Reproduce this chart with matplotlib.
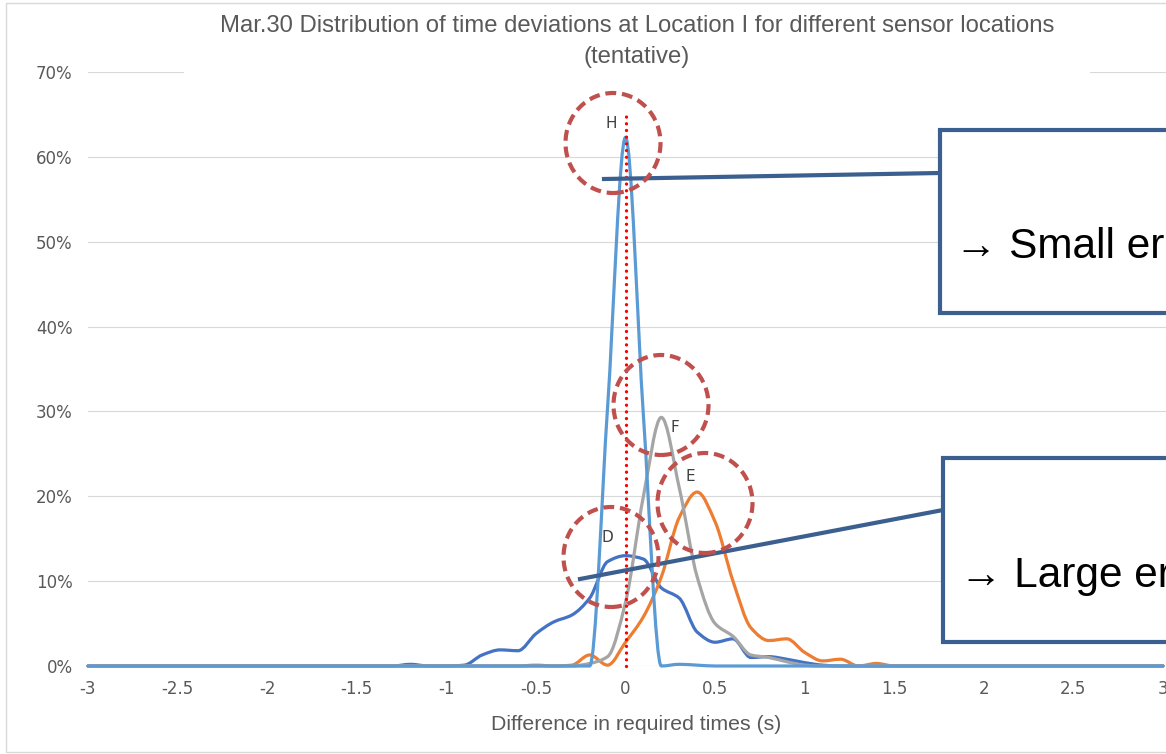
import numpy as np
import matplotlib
matplotlib.use("Agg")
import matplotlib.pyplot as plt
from matplotlib.path import Path
from matplotlib.patches import PathPatch, Ellipse, Rectangle
from matplotlib.lines import Line2D

# x positions (s), one every 0.1 s
x_vals = [-3.0, -2.9, -2.8, -2.7, -2.6, -2.5, -2.4, -2.3, -2.2, -2.1,
          -2.0, -1.9, -1.8, -1.7, -1.6, -1.5, -1.4, -1.3, -1.2, -1.1,
          -1.0, -0.9, -0.8, -0.7, -0.6, -0.5, -0.4, -0.3, -0.2, -0.1,
          0.0, 0.1, 0.2, 0.3, 0.4, 0.5, 0.6, 0.7, 0.8, 0.9,
          1.0, 1.1, 1.2, 1.3, 1.4, 1.5, 1.6, 1.7, 1.8, 1.9,
          2.0, 2.1, 2.2, 2.3, 2.4, 2.5, 2.6, 2.7, 2.8, 2.9, 3.0]

# share of samples (%) per series
D_vals = [0, 0, 0, 0, 0, 0, 0, 0, 0, 0,
          0, 0, 0, 0, 0, 0, 0, 0, 0.2, 0,
          0, 0.1, 1.3, 1.9, 1.8, 3.8, 5.2, 6.0, 8.0, 12.3,
          13.0, 12.6, 9.2, 8.0, 4.0, 2.8, 3.2, 1.0, 1.1, 0.8,
          0.4, 0.1, 0, 0, 0, 0, 0, 0, 0, 0,
          0, 0, 0, 0, 0, 0, 0, 0, 0, 0, 0]
E_vals = [0, 0, 0, 0, 0, 0, 0, 0, 0, 0,
          0, 0, 0, 0, 0, 0, 0, 0, 0, 0,
          0, 0, 0, 0, 0, 0.1, 0, 0.1, 1.3, 0.1,
          2.8, 5.8, 10.5, 17.5, 20.5, 17.0, 10.0, 4.5, 3.0, 3.2,
          1.6, 0.6, 0.8, 0, 0.3, 0, 0, 0, 0, 0,
          0, 0, 0, 0, 0, 0, 0, 0, 0, 0, 0]
F_vals = [0, 0, 0, 0, 0, 0, 0, 0, 0, 0,
          0, 0, 0, 0, 0, 0, 0, 0, 0, 0,
          0, 0, 0, 0, 0, 0, 0, 0, 0.3, 1.1,
          7.5, 20.0, 29.3, 21.0, 10.5, 5.0, 3.5, 1.3, 1.0, 0.5,
          0.1, 0, 0, 0, 0, 0, 0, 0, 0, 0,
          0, 0, 0, 0, 0, 0, 0, 0, 0, 0, 0]
H_vals = [0, 0, 0, 0, 0, 0, 0, 0, 0, 0,
          0, 0, 0, 0, 0, 0, 0, 0, 0, 0,
          0, 0, 0, 0, 0, 0, 0, 0, 0, 30.5,
          62.3, 29.5, 0, 0.2, 0.1, 0, 0, 0, 0, 0,
          0, 0, 0, 0, 0, 0, 0, 0, 0, 0,
          0, 0, 0, 0, 0, 0, 0, 0, 0, 0, 0]

series_names = ["D", "E", "F", "H"]
series_colors = ["#4472C4", "#ED7D31", "#A5A5A5", "#5B9BD5"]

x_ticks = [-3, -2.5, -2, -1.5, -1, -0.5, 0, 0.5, 1, 1.5, 2, 2.5, 3]
x_tick_labels = ["-3", "-2.5", "-2", "-1.5", "-1", "-0.5", "0", "0.5", "1", "1.5", "2", "2.5", "3"]
y_ticks = [0, 10, 20, 30, 40, 50, 60, 70]

ref_x = 0.0
ref_top = 65.0

title_1 = "Mar.30 Distribution of time deviations at Location I for different sensor locations"
title_2 = "(tentative)"
x_title = "Difference in required times (s)"
note_small = "\u2192 Small error"
note_large = "\u2192 Large error"

W, H = 1166, 754


def fx(px):
    return px / W


def fy(py):
    return 1 - py / H


def smooth_path(xs, ys):
    # smoothed line like Excel, drawn as cubic Bezier segments (monotone tangents)
    xs = np.asarray(xs, float)
    ys = np.asarray(ys, float)
    d = np.diff(ys) / np.diff(xs)
    m = np.zeros_like(ys)
    m[0], m[-1] = d[0], d[-1]
    for k in range(1, len(ys) - 1):
        if d[k - 1] * d[k] > 0:
            m[k] = 2 / (1 / d[k - 1] + 1 / d[k])
    verts = [(xs[0], ys[0])]
    codes = [Path.MOVETO]
    for k in range(len(xs) - 1):
        h = xs[k + 1] - xs[k]
        verts += [(xs[k] + h / 3, ys[k] + m[k] * h / 3),
                  (xs[k + 1] - h / 3, ys[k + 1] - m[k + 1] * h / 3),
                  (xs[k + 1], ys[k + 1])]
        codes += [Path.CURVE4] * 3
    return Path(verts, codes)


fig = plt.figure(figsize=(W / 100, H / 100), dpi=100)
fig.patch.set_facecolor("white")
# plot area runs a little past the right edge of the picture
ax = fig.add_axes([fx(88), fy(666), fx(1172 - 88), (666 - 72) / H])

for i, vals in enumerate([D_vals, E_vals, F_vals, H_vals]):
    ax.add_patch(PathPatch(smooth_path(x_vals, vals), fill=False,
                           edgecolor=series_colors[i], lw=2.3,
                           joinstyle="round", capstyle="round",
                           clip_on=False, zorder=3 + i))

ax.plot([ref_x, ref_x], [0, ref_top], color="#FF0000", lw=2.4,
        linestyle=(0, (0.01, 2.0)), dash_capstyle="round", zorder=8, clip_on=False)

ax.set_xlim(-3, 3 + 9 / 179.3)
ax.set_ylim(0, 70)
ax.set_xticks(x_ticks)
ax.set_xticklabels(x_tick_labels)
ax.set_yticks(y_ticks)
ax.set_yticklabels([f"{v}%" for v in y_ticks])
ax.tick_params(axis="both", length=0, labelsize=12, labelcolor="#595959")
ax.tick_params(axis="y", pad=11)
ax.tick_params(axis="x", pad=10)
for lab in ax.get_xticklabels() + ax.get_yticklabels():
    lab.set_family("DejaVu Sans")
ax.yaxis.grid(True, color="#D9D9D9", lw=0.8)
ax.set_axisbelow(True)
for s in ax.spines.values():
    s.set_visible(False)

# chart border and title area
fig.add_artist(Rectangle((fx(6), fy(752)), fx(1200), (752 - 3) / H, transform=fig.transFigure,
                         fill=False, edgecolor="#D9D9D9", lw=1, zorder=0.5))
fig.add_artist(Rectangle((fx(184), fy(80)), fx(1090 - 184), (80 - 5) / H, transform=fig.transFigure,
                         facecolor="white", edgecolor="none", zorder=1))
fig.text(fx(637), fy(32), title_1, ha="center", va="baseline", fontsize=17.2,
         color="#595959", family="Liberation Sans", zorder=2)
fig.text(fx(637), fy(63), title_2, ha="center", va="baseline", fontsize=17.2,
         color="#595959", family="Liberation Sans", zorder=2)
fig.text(fx(636), fy(724), x_title, ha="center", va="center", fontsize=15.3,
         color="#595959", family="Liberation Sans")

# connectors
box_col = "#3B5F8E"
fig.add_artist(Line2D([fx(604), fx(940)], [fy(179), fy(173)], transform=fig.transFigure,
                      color=box_col, lw=3, zorder=4))
fig.add_artist(Line2D([fx(580), fx(943)], [fy(579), fy(510)], transform=fig.transFigure,
                      color=box_col, lw=3, zorder=4))

# dashed circles with labels
circles = [(613, 143, "H", 611, 123), (661, 405, "F", 675, 427),
           (705, 503, "E", 690, 477), (611, 557, "D", 607, 538)]
for cx, cy, lab, tx, ty in circles:
    fig.add_artist(Ellipse((fx(cx), fy(cy)), fx(95), 100 / H, transform=fig.transFigure,
                           fill=False, edgecolor="#C0504D", lw=3,
                           linestyle=(0, (2.6, 1.4)), zorder=5))
    fig.text(fx(tx), fy(ty), lab, ha="center", va="center", fontsize=11,
             color="#404040", family="DejaVu Sans", zorder=6)

# callout boxes
fig.add_artist(Rectangle((fx(940), fy(313)), fx(400), (313 - 130) / H, transform=fig.transFigure,
                         facecolor="white", edgecolor=box_col, lw=3, zorder=7))
fig.add_artist(Rectangle((fx(943), fy(642)), fx(400), (642 - 458) / H, transform=fig.transFigure,
                         facecolor="white", edgecolor=box_col, lw=3, zorder=7))
fig.text(fx(955), fy(258), note_small, ha="left", va="baseline", fontsize=30.5,
         color="black", family=["Liberation Sans", "DejaVu Sans"], zorder=8)
fig.text(fx(960), fy(587), note_large, ha="left", va="baseline", fontsize=30.5,
         color="black", family=["Liberation Sans", "DejaVu Sans"], zorder=8)

fig.savefig("out.png", dpi=100)
